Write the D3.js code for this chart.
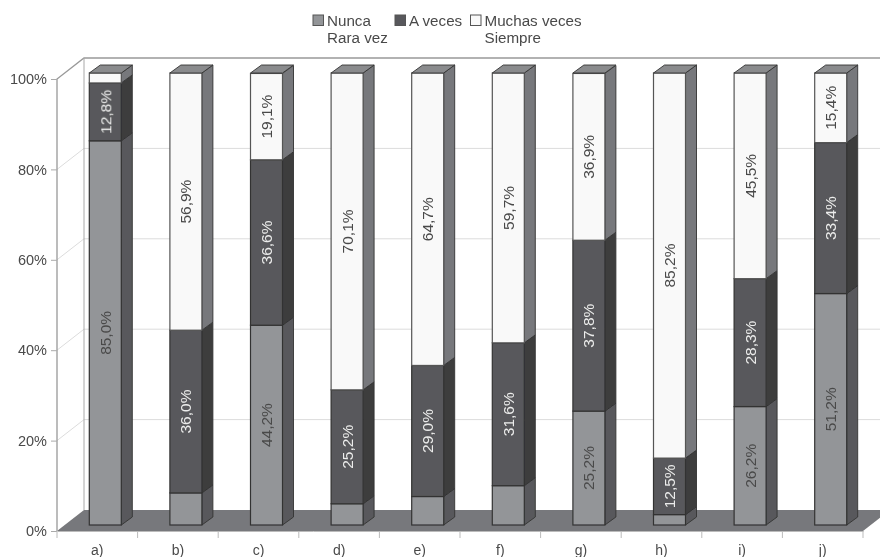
<!DOCTYPE html>
<html>
<head>
<meta charset="utf-8">
<script src="https://cdn.jsdelivr.net/npm/d3@7"></script>
<style>
html,body{margin:0;padding:0;background:#fff}
svg{display:block}
text{font-family:"Liberation Sans",Arial,sans-serif}
</style>
</head>
<body>
<svg id="chart" width="880" height="557"></svg>
<script>
const categories = ["a)","b)","c)","d)","e)","f)","g)","h)","i)","j)"];
const seriesNames = ["Nunca\nRara vez","A veces","Muchas veces\nSiempre"];
const low  = [85.0, 7.1, 44.2, 4.7, 6.3, 8.7, 25.2, 2.3, 26.2, 51.2];
const mid  = [12.8, 36.0, 36.6, 25.2, 29.0, 31.6, 37.8, 12.5, 28.3, 33.4];
const high = [2.2, 56.9, 19.1, 70.1, 64.7, 59.7, 36.9, 85.2, 45.5, 15.4];
const labelled = [
  [true,false,true,false,false,false,true,false,true,true],
  [true,true,true,true,true,true,true,true,true,true],
  [false,true,true,true,true,true,true,true,true,true]
];
const fronts = ["#939598","#58595b","#f9f9f9"];
const sides  = ["#58595b","#3c3c3e","#77787b"];
const labelColors = ["#4a4a4a","#ececec","#4a4a4a"];
const yTicks = [0,20,40,60,80,100];

const svg = d3.select("#chart");
const defs = svg.append("defs");
defs.append("filter").attr("id","soft").attr("x",0).attr("y",0).attr("width",1).attr("height",1)
  .attr("filterUnits","userSpaceOnUse").attr("width",880).attr("height",557)
  .append("feGaussianBlur").attr("stdDeviation",0.4);

const x = d3.scaleBand().domain(categories).range([57,863]).paddingInner(0).paddingOuter(0);
const y = d3.scaleLinear().domain([0,100]).range([531,79]);
const depthX = 27, depthY = 21;
const barDX = 8, barDY = 6, sideDX = 11, sideDY = 8, barW = 32;

const root = svg.append("g").attr("filter","url(#soft)");

// floor
root.append("path")
  .attr("d", `M${x.range()[0]},${y(0)}L${x.range()[0]+depthX},${y(0)-depthY}L${x.range()[1]+depthX},${y(0)-depthY}L${x.range()[1]},${y(0)}Z`)
  .attr("fill","#77787b");

// gridlines on back wall and left wall
yTicks.slice(1,-1).forEach(t=>{
  root.append("path")
    .attr("d",`M${x.range()[0]},${y(t)}L${x.range()[0]+depthX},${y(t)-depthY}L880,${y(t)-depthY}`)
    .attr("fill","none").attr("stroke","#dcdcdc").attr("stroke-width",1);
});
// wall frame
root.append("path")
  .attr("d",`M${x.range()[0]},${y(0)}L${x.range()[0]},${y(100)}L${x.range()[0]+depthX},${y(100)-depthY}L880,${y(100)-depthY}`)
  .attr("fill","none").attr("stroke","#999").attr("stroke-width",1.3);
root.append("line")
  .attr("x1",x.range()[0]+depthX).attr("x2",x.range()[0]+depthX)
  .attr("y1",y(100)-depthY).attr("y2",y(0)-depthY)
  .attr("stroke","#a8a8a8").attr("stroke-width",1);

// axes
const yAxis = d3.axisLeft(y).tickValues(yTicks).tickFormat(d=>d+"%").tickSize(6).tickSizeOuter(0);
const gy = root.append("g").attr("transform",`translate(${x.range()[0]},0)`).call(yAxis);
gy.select(".domain").remove();
gy.selectAll("line").attr("stroke","#aaa");
gy.selectAll("text").attr("font-size",14.5).attr("fill","#4a4a4a").attr("font-family","Liberation Sans").attr("x",-10);

const xAxis = d3.axisBottom(x).tickSize(0);
const gx = root.append("g").attr("transform",`translate(0,${y(0)})`).call(xAxis);
gx.select(".domain").attr("stroke","#bbb");
gx.selectAll(".tick line").remove();
gx.selectAll("text").attr("font-size",14).attr("fill","#4a4a4a").attr("font-family","Liberation Sans").attr("y",14).attr("dy","0.71em");
const edges = categories.map(c=>x(c)).concat([x.range()[1]]);
gx.selectAll("line.sep").data(edges).join("line").attr("class","sep")
  .attr("x1",d=>d).attr("x2",d=>d).attr("y1",0).attr("y2",7).attr("stroke","#bbb");

// bars
const series = [low,mid,high];
categories.forEach((c,i)=>{
  const left = x(c) + (x.bandwidth()-barW)/2 + barDX;
  const g = root.append("g");
  let acc = 0;
  series.forEach((s,k)=>{
    const v = s[i];
    const y0 = y(acc) - barDY, y1 = y(acc+v) - barDY;
    g.append("path")
      .attr("d",`M${left+barW},${y0}L${left+barW+sideDX},${y0-sideDY}L${left+barW+sideDX},${y1-sideDY}L${left+barW},${y1}Z`)
      .attr("fill",sides[k]).attr("stroke","#333").attr("stroke-width",0.9);
    g.append("rect")
      .attr("x",left).attr("y",y1).attr("width",barW).attr("height",y0-y1)
      .attr("fill",fronts[k]).attr("stroke",k===2?"#555":"#333").attr("stroke-width",1.2);
    acc += v;
  });
  const yt = y(100)-barDY;
  g.append("path")
    .attr("d",`M${left},${yt}L${left+sideDX},${yt-sideDY}L${left+barW+sideDX},${yt-sideDY}L${left+barW},${yt}Z`)
    .attr("fill","#8a8b8d").attr("stroke","#333").attr("stroke-width",0.9);
  acc = 0;
  series.forEach((s,k)=>{
    const v = s[i];
    if(labelled[k][i]){
      const cy = y(acc+v/2)-barDY, cx = left+barW/2;
      g.append("text")
        .attr("transform",`translate(${cx},${cy}) rotate(-90)`)
        .attr("text-anchor","middle").attr("dy","0.36em")
        .attr("font-size",15.5).attr("fill",labelColors[k])
        .text(v.toFixed(1).replace(".",",")+"%");
    }
    acc += v;
  });
});

// legend
const legendX = [313,395,470.5];
seriesNames.forEach((n,k)=>{
  const g = root.append("g").attr("transform",`translate(${legendX[k]},15)`);
  g.append("rect").attr("width",10.5).attr("height",10.5)
    .attr("fill",fronts[k]).attr("stroke","#555").attr("stroke-width",1);
  n.split("\n").forEach((t,j)=>{
    g.append("text").attr("x",14).attr("y",11+j*17)
      .attr("font-size",15.2).attr("fill","#4a4a4a").text(t);
  });
});
</script>
</body>
</html>
